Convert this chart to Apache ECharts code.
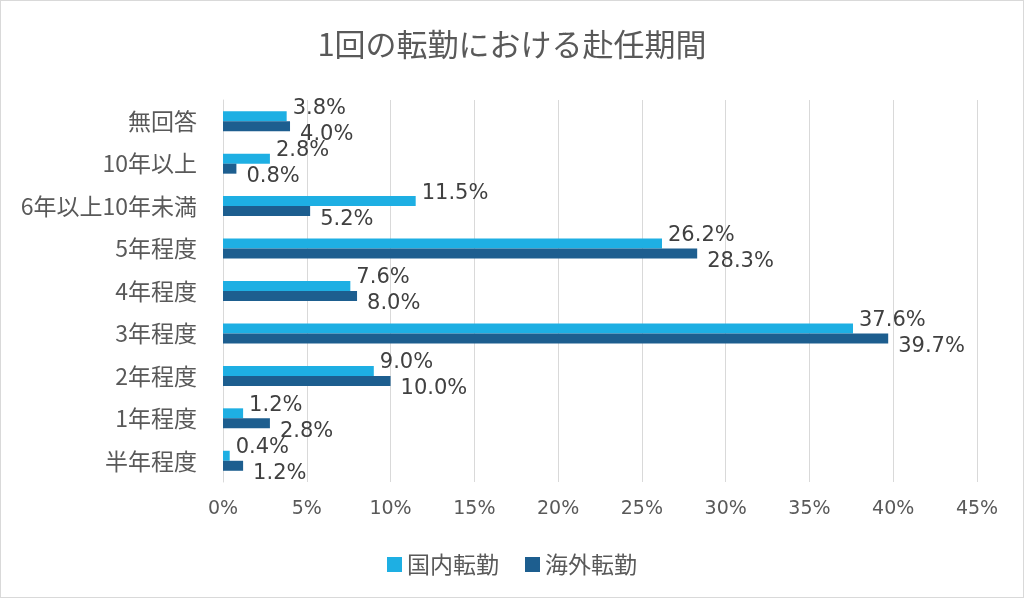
<!DOCTYPE html>
<html>
<head>
<meta charset="utf-8">
<script src="https://cdn.jsdelivr.net/npm/echarts@6/dist/echarts.min.js"></script>
<style>
html,body{margin:0;padding:0;background:#fff;}
#c{width:1024px;height:598px;box-sizing:border-box;border:1px solid #d9d9d9;}
</style>
</head>
<body>
<div id="c"></div>
<script>
const titleText = '1回の転勤における赴任期間';
const categories = ['半年程度','1年程度','2年程度','3年程度','4年程度','5年程度','6年以上10年未満','10年以上','無回答'];
const domestic = [0.4, 1.2, 9.0, 37.6, 7.6, 26.2, 11.5, 2.8, 3.8];
const overseas = [1.2, 2.8, 10.0, 39.7, 8.0, 28.3, 5.2, 0.8, 4.0];
const seriesNames = ['国内転勤','海外転勤'];
const xTicks = {min: 0, max: 45, interval: 5};

const chart = echarts.init(document.getElementById('c'));
const labelFont = 'DejaVu Sans';
const cjk = '"Noto Sans CJK JP", "DejaVu Sans", sans-serif';
chart.setOption({
  backgroundColor: '#fff',
  animation: false,
  title: {
    text: titleText, left: 'center', top: 23,
    textStyle: {fontFamily: cjk, fontSize: 31, fontWeight: 'normal', color: '#595959'}
  },
  legend: {
    data: seriesNames, left: 'center', top: 547,
    itemWidth: 15, itemHeight: 15, itemGap: 26, icon: 'rect',
    textStyle: {fontFamily: cjk, fontSize: 23, color: '#595959'}
  },
  grid: {left: 222, right: 46, top: 99, bottom: 115},
  xAxis: {
    type: 'value', min: xTicks.min, max: xTicks.max, interval: xTicks.interval,
    axisLabel: {formatter: '{value}%', fontFamily: labelFont, fontSize: 19, color: '#595959', margin: 18},
    axisLine: {show: false}, axisTick: {show: false},
    splitLine: {lineStyle: {color: '#d9d9d9', width: 1}}
  },
  yAxis: {
    type: 'category', data: categories,
    axisLabel: {fontFamily: cjk, fontSize: 23, color: '#595959', margin: 26},
    axisLine: {show: true, lineStyle: {color: '#d9d9d9'}},
    axisTick: {show: false}
  },
  series: [
    {
      name: seriesNames[0], type: 'bar', data: domestic, barWidth: 10, barGap: '0%',
      itemStyle: {color: '#1eafe3'},
      label: {show: true, position: 'right', distance: 6, offset: [0, -8], formatter: p => p.value.toFixed(1) + '%',
        fontFamily: labelFont, fontSize: 21, color: '#404040'}
    },
    {
      name: seriesNames[1], type: 'bar', data: overseas, barWidth: 10, barGap: '0%',
      itemStyle: {color: '#1d5e8f'},
      label: {show: true, position: 'right', distance: 10, offset: [0, 8], formatter: p => p.value.toFixed(1) + '%',
        fontFamily: labelFont, fontSize: 21, color: '#404040'}
    }
  ]
});
</script>
</body>
</html>
